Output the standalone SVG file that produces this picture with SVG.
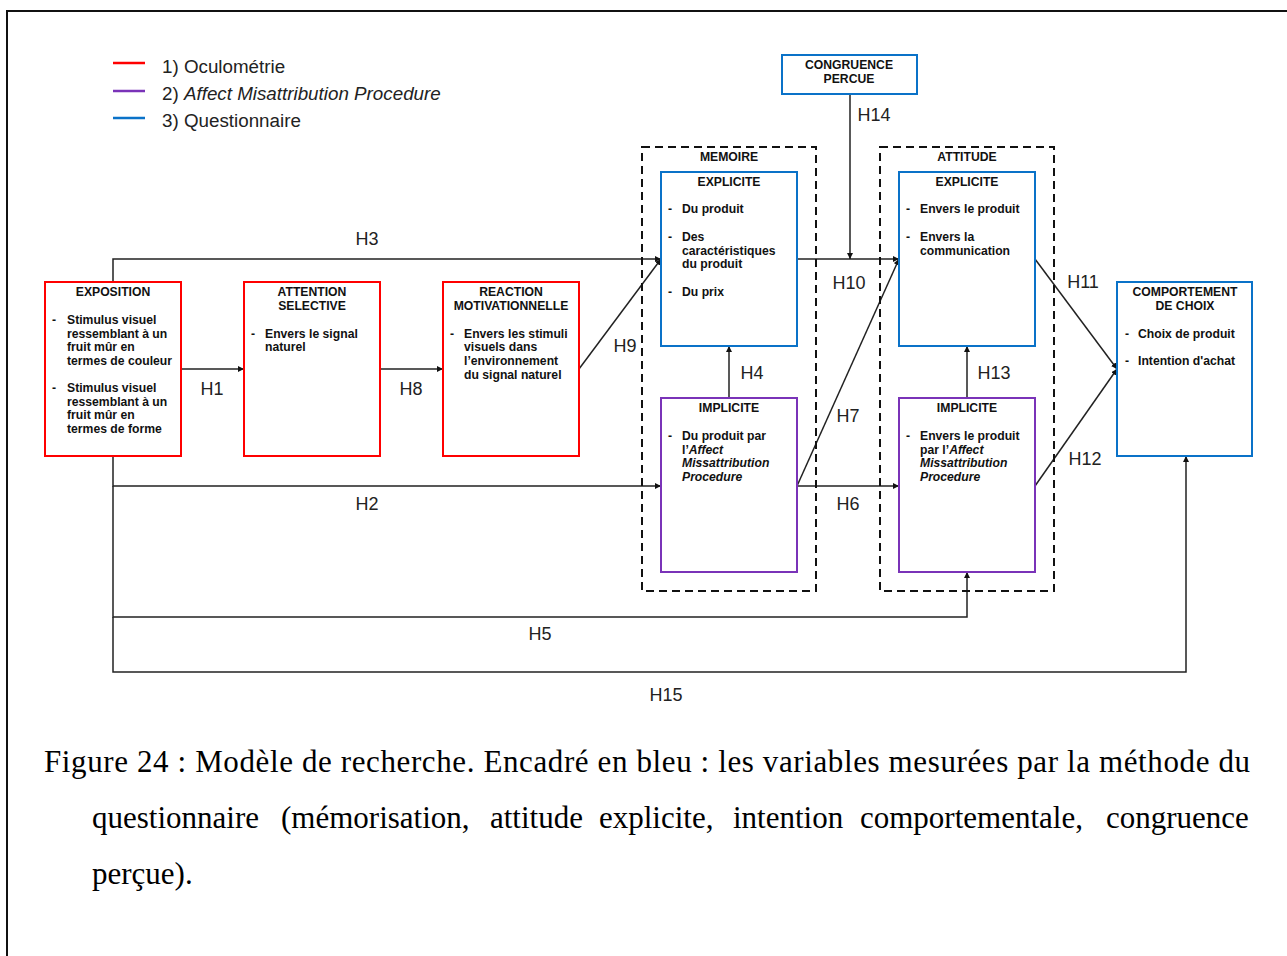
<svg xmlns="http://www.w3.org/2000/svg" width="1287" height="956" viewBox="0 0 1287 956">
<style>
.t{font-family:"Liberation Sans",Arial,sans-serif;font-weight:bold;font-size:12.2px;fill:#111}
.c{text-anchor:middle}
.h{font-family:"Liberation Sans",Arial,sans-serif;font-size:18px;fill:#222}
.lg{font-family:"Liberation Sans",Arial,sans-serif;font-size:18.8px;fill:#222}
.cap{font-family:"Liberation Serif","Times New Roman",serif;font-size:31px;fill:#000}
.red{fill:#fff;stroke:#ff0000;stroke-width:2}
.blue{fill:#fff;stroke:#0a72c8;stroke-width:2}
.pur{fill:#fff;stroke:#7a33b8;stroke-width:2}
.dash{fill:none;stroke:#111;stroke-width:2;stroke-dasharray:8,5}
.ln{fill:none;stroke:#222;stroke-width:1.5}
</style>
<defs>
<marker id="ar" viewBox="0 0 10 10" refX="10" refY="5" markerWidth="6" markerHeight="6" orient="auto" markerUnits="userSpaceOnUse">
<path d="M0,0 L10,5 L0,10 z" fill="#111"/>
</marker>
</defs>
<rect x="7" y="11" width="1300" height="970" fill="#fff" stroke="#111" stroke-width="2"/>

<g id="legend">
<line x1="113" y1="63" x2="145" y2="63" stroke="#ff0000" stroke-width="2.5"/>
<line x1="113" y1="91" x2="145" y2="91" stroke="#7a33b8" stroke-width="2.5"/>
<line x1="113" y1="118" x2="145" y2="118" stroke="#0a72c8" stroke-width="2.5"/>
<text class="lg" x="162" y="73">1) Oculométrie</text>
<text class="lg" x="162" y="100">2) <tspan font-style="italic">Affect Misattribution Procedure</tspan></text>
<text class="lg" x="162" y="127">3) Questionnaire</text>
</g>

<g id="connectors">
<polyline class="ln" points="113,282 113,259 661,259" marker-end="url(#ar)"/>
<line class="ln" x1="181" y1="369" x2="244" y2="369" marker-end="url(#ar)"/>
<line class="ln" x1="380" y1="369" x2="443" y2="369" marker-end="url(#ar)"/>
<line class="ln" x1="579" y1="369" x2="661" y2="259" marker-end="url(#ar)"/>
<polyline class="ln" points="113,456 113,486 661,486" marker-end="url(#ar)"/>
<polyline class="ln" points="113,486 113,617 967,617 967,572" marker-end="url(#ar)"/>
<polyline class="ln" points="113,617 113,672 1186,672 1186,456" marker-end="url(#ar)"/>
<line class="ln" x1="729" y1="398" x2="729" y2="346" marker-end="url(#ar)"/>
<line class="ln" x1="797" y1="259" x2="899" y2="259" marker-end="url(#ar)"/>
<line class="ln" x1="850" y1="94" x2="850" y2="259" marker-end="url(#ar)"/>
<line class="ln" x1="797" y1="486" x2="899" y2="259" marker-end="url(#ar)"/>
<line class="ln" x1="797" y1="486" x2="899" y2="486" marker-end="url(#ar)"/>
<line class="ln" x1="967" y1="398" x2="967" y2="346" marker-end="url(#ar)"/>
<line class="ln" x1="1035" y1="259" x2="1117" y2="369" marker-end="url(#ar)"/>
<line class="ln" x1="1035" y1="486" x2="1117" y2="369" marker-end="url(#ar)"/>
<text class="h c" x="367" y="245">H3</text>
<text class="h c" x="212" y="395">H1</text>
<text class="h c" x="411" y="395">H8</text>
<text class="h c" x="625" y="352">H9</text>
<text class="h c" x="367" y="510">H2</text>
<text class="h c" x="540" y="640">H5</text>
<text class="h c" x="666" y="701">H15</text>
<text class="h c" x="752" y="379">H4</text>
<text class="h c" x="849" y="289">H10</text>
<text class="h c" x="874" y="121">H14</text>
<text class="h c" x="848" y="422">H7</text>
<text class="h c" x="848" y="510">H6</text>
<text class="h c" x="994" y="379">H13</text>
<text class="h c" x="1083" y="288">H11</text>
<text class="h c" x="1085" y="465">H12</text>
</g>

<g id="exposition">
<rect class="red" x="45" y="282" width="136" height="174"/>
<text class="t c" x="113" y="296">EXPOSITION</text>
<text class="t" x="52" y="324">-</text>
<text class="t" x="67" y="324">Stimulus visuel</text>
<text class="t" x="67" y="338">ressemblant à un</text>
<text class="t" x="67" y="351">fruit mûr en</text>
<text class="t" x="67" y="365">termes de couleur</text>
<text class="t" x="52" y="392">-</text>
<text class="t" x="67" y="392">Stimulus visuel</text>
<text class="t" x="67" y="406">ressemblant à un</text>
<text class="t" x="67" y="419">fruit mûr en</text>
<text class="t" x="67" y="433">termes de forme</text>
</g>

<g id="attention">
<rect class="red" x="244" y="282" width="136" height="174"/>
<text class="t c" x="312" y="296">ATTENTION</text>
<text class="t c" x="312" y="310">SELECTIVE</text>
<text class="t" x="251" y="338">-</text>
<text class="t" x="265" y="338">Envers le signal</text>
<text class="t" x="265" y="351">naturel</text>
</g>

<g id="reaction">
<rect class="red" x="443" y="282" width="136" height="174"/>
<text class="t c" x="511" y="296">REACTION</text>
<text class="t c" x="511" y="310">MOTIVATIONNELLE</text>
<text class="t" x="450" y="338">-</text>
<text class="t" x="464" y="338">Envers les stimuli</text>
<text class="t" x="464" y="351">visuels dans</text>
<text class="t" x="464" y="365">l’environnement</text>
<text class="t" x="464" y="379">du signal naturel</text>
</g>

<g id="memoire">
<rect class="dash" x="642" y="147" width="174" height="444"/>
<text class="t c" x="729" y="161">MEMOIRE</text>
</g>

<g id="memoire-explicite">
<rect class="blue" x="661" y="172" width="136" height="174"/>
<text class="t c" x="729" y="186">EXPLICITE</text>
<text class="t" x="668" y="213">-</text>
<text class="t" x="682" y="213">Du produit</text>
<text class="t" x="668" y="241">-</text>
<text class="t" x="682" y="241">Des</text>
<text class="t" x="682" y="255">caractéristiques</text>
<text class="t" x="682" y="268">du produit</text>
<text class="t" x="668" y="296">-</text>
<text class="t" x="682" y="296">Du prix</text>
</g>

<g id="memoire-implicite">
<rect class="pur" x="661" y="398" width="136" height="174"/>
<text class="t c" x="729" y="412">IMPLICITE</text>
<text class="t" x="668" y="440">-</text>
<text class="t" x="682" y="440">Du produit par</text>
<text class="t" x="682" y="454">l’<tspan font-style="italic">Affect</tspan></text>
<text class="t" x="682" y="467" font-style="italic">Missattribution</text>
<text class="t" x="682" y="481" font-style="italic">Procedure</text>
</g>

<g id="congruence">
<rect class="blue" x="782" y="55" width="135" height="39"/>
<text class="t c" x="849" y="69">CONGRUENCE</text>
<text class="t c" x="849" y="83">PERCUE</text>
</g>

<g id="attitude">
<rect class="dash" x="880" y="147" width="174" height="444"/>
<text class="t c" x="967" y="161">ATTITUDE</text>
</g>

<g id="attitude-explicite">
<rect class="blue" x="899" y="172" width="136" height="174"/>
<text class="t c" x="967" y="186">EXPLICITE</text>
<text class="t" x="906" y="213">-</text>
<text class="t" x="920" y="213">Envers le produit</text>
<text class="t" x="906" y="241">-</text>
<text class="t" x="920" y="241">Envers la</text>
<text class="t" x="920" y="255">communication</text>
</g>

<g id="attitude-implicite">
<rect class="pur" x="899" y="398" width="136" height="174"/>
<text class="t c" x="967" y="412">IMPLICITE</text>
<text class="t" x="906" y="440">-</text>
<text class="t" x="920" y="440">Envers le produit</text>
<text class="t" x="920" y="454">par l’<tspan font-style="italic">Affect</tspan></text>
<text class="t" x="920" y="467" font-style="italic">Missattribution</text>
<text class="t" x="920" y="481" font-style="italic">Procedure</text>
</g>

<g id="comportement">
<rect class="blue" x="1117" y="282" width="135" height="174"/>
<text class="t c" x="1185" y="296">COMPORTEMENT</text>
<text class="t c" x="1185" y="310">DE CHOIX</text>
<text class="t" x="1125" y="338">-</text>
<text class="t" x="1138" y="338">Choix de produit</text>
<text class="t" x="1125" y="365">-</text>
<text class="t" x="1138" y="365">Intention d'achat</text>
</g>

<g id="caption">
<text class="cap" x="44" y="772" textLength="1206" lengthAdjust="spacing">Figure 24  : Modèle de recherche. Encadré en bleu : les variables mesurées par la méthode du</text>
<text class="cap" y="828"><tspan x="92">questionnaire</tspan> <tspan x="281">(mémorisation,</tspan> <tspan x="490">attitude</tspan> <tspan x="599">explicite,</tspan> <tspan x="733">intention</tspan> <tspan x="860">comportementale,</tspan> <tspan x="1106">congruence</tspan></text>
<text class="cap" x="92" y="884">perçue).</text>
</g>
</svg>
